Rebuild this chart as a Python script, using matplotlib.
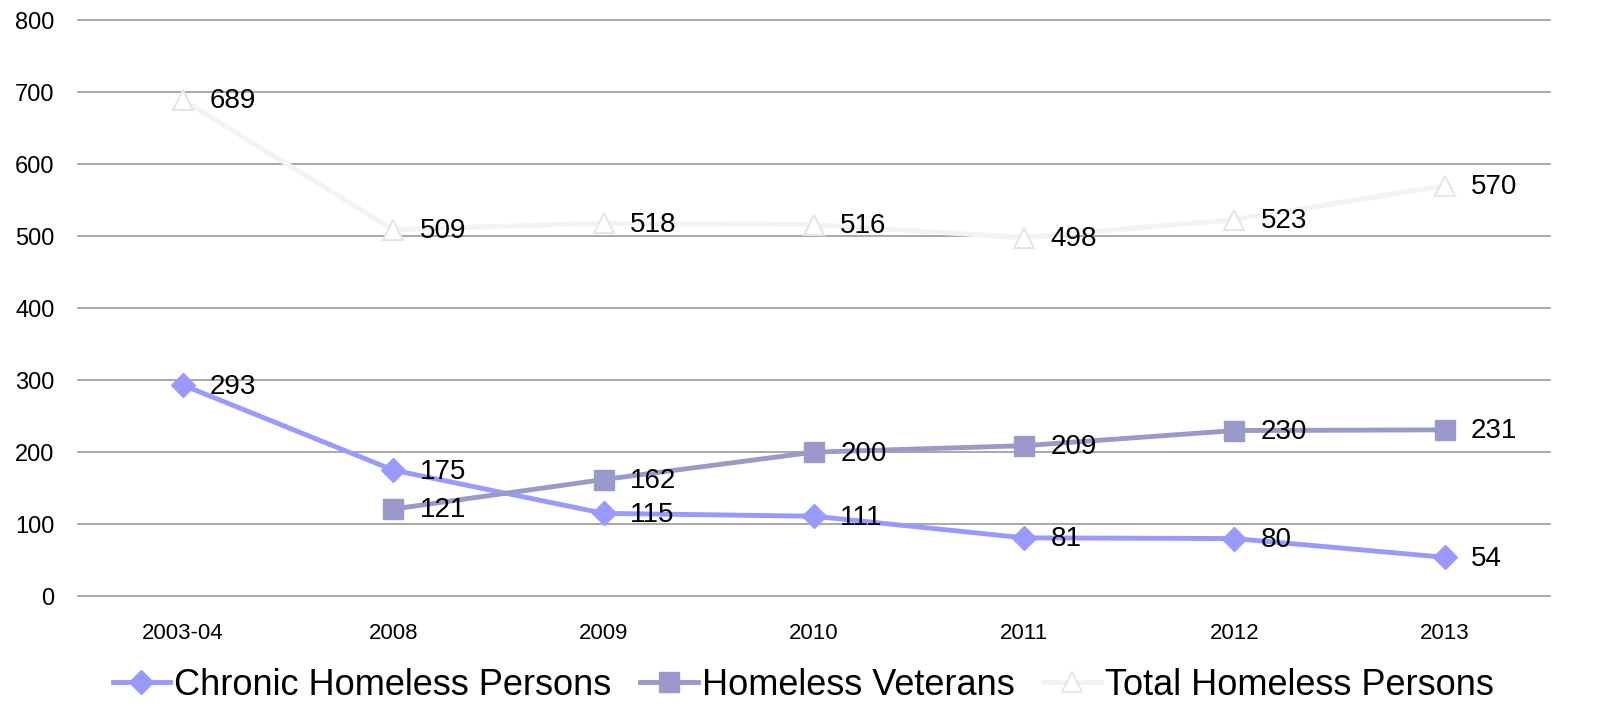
import matplotlib.pyplot as plt
import numpy as np

plt.rcParams['font.family'] = ['Liberation Sans', 'DejaVu Sans']

years = ['2003-04', '2008', '2009', '2010', '2011', '2012', '2013']
chronic = [293, 175, 115, 111, 81, 80, 54]
veterans = [np.nan, 121, 162, 200, 209, 230, 231]
total = [689, 509, 518, 516, 498, 523, 570]

x = np.arange(len(years))

fig = plt.figure(figsize=(16.06, 7.2), dpi=100)
ax = fig.add_axes([0.0486, 0.172, 0.9164, 0.8])

ax.plot(x, total, color='#f3f3f3', lw=3.5, marker='^', ms=15,
        mfc='white', mec='#e6e6e6', mew=1.5, label='Total Homeless Persons', zorder=3)
ax.plot(x, chronic, color='#9999ff', lw=3.5, marker='D', ms=12,
        label='Chronic Homeless Persons', zorder=4)
ax.plot(x, veterans, color='#9999cc', lw=3.5, marker='s', ms=15,
        label='Homeless Veterans', zorder=4)

for series in (chronic, veterans, total):
    for xi, v in zip(x, series):
        if np.isnan(v):
            continue
        ax.annotate(f'{int(v)}', (xi, v), xytext=(19, -1), textcoords='offset points',
                    ha='left', va='center', fontsize=20, color='black', zorder=5)

ax.set_xlim(-0.5, 6.5)
ax.set_ylim(0, 800)
ax.set_yticks(range(0, 801, 100))
ax.set_xticks(x)
ax.set_xticklabels(years)
ax.tick_params(axis='x', length=0, labelsize=16, pad=19)
ax.tick_params(axis='y', length=0, labelsize=17, pad=17)
ax.grid(axis='y', color='#999999', lw=1.2)
for gl in ax.get_ygridlines():
    gl.set_clip_on(False)
ax.set_axisbelow(True)
for s in ax.spines.values():
    s.set_visible(False)

handles, labels = ax.get_legend_handles_labels()
order = [1, 2, 0]
fig.legend([handles[i] for i in order], [labels[i] for i in order],
           loc='center', bbox_to_anchor=(0.5, 0.048), ncol=3, frameon=False,
           fontsize=26, handlelength=1.6, handletextpad=0.1, columnspacing=0.8)

fig.savefig('out.png', dpi=100)
